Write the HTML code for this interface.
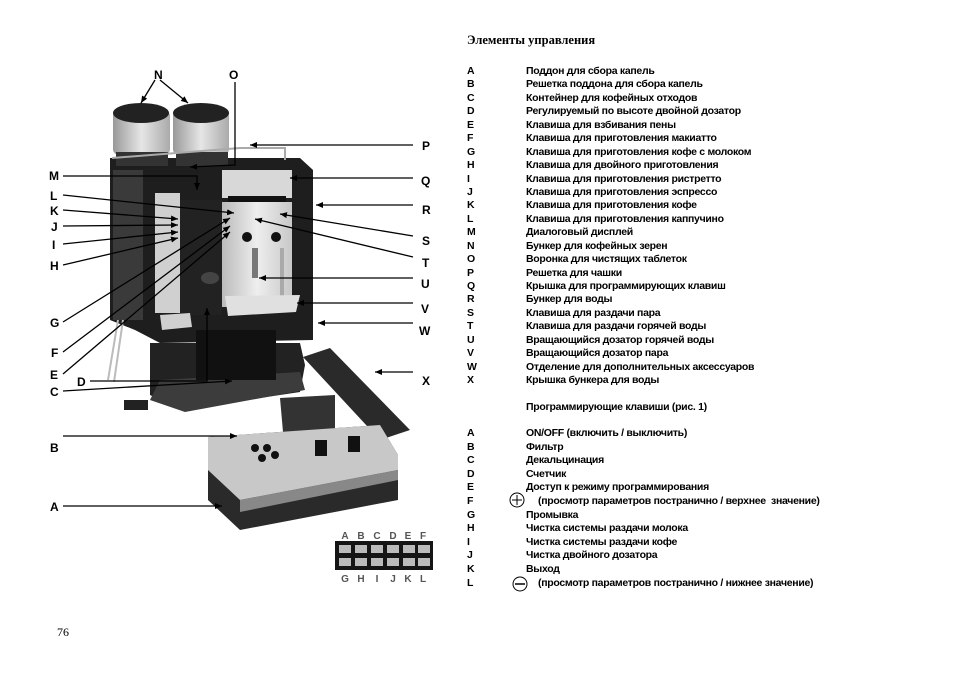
<!DOCTYPE html>
<html><head><meta charset="utf-8"><style>
body{margin:0;background:#fff;width:954px;height:673px;overflow:hidden;position:relative;font-family:"Liberation Sans",sans-serif}
.t{position:absolute;font-family:"Liberation Sans Narrow","Liberation Sans",sans-serif;font-weight:bold;font-size:10.5px;line-height:13px;white-space:nowrap;letter-spacing:-0.3px}
.l{left:467px}.d{left:526px}
svg{position:absolute;left:0;top:0}
</style></head><body>
<svg width="954" height="673" viewBox="0 0 954 673">
<defs>
<marker id="a" markerWidth="8" markerHeight="8" refX="7" refY="4" orient="auto" markerUnits="userSpaceOnUse"><path d="M0,1 L7,4 L0,7 z" fill="#000"/></marker>
<linearGradient id="s" x1="0" x2="1"><stop offset="0" stop-color="#bbb"/><stop offset="0.5" stop-color="#eee"/><stop offset="1" stop-color="#c8c8c8"/></linearGradient>
<linearGradient id="h" x1="0" x2="1"><stop offset="0" stop-color="#999"/><stop offset="0.5" stop-color="#e6e6e6"/><stop offset="1" stop-color="#aaa"/></linearGradient>
</defs>
<path d="M110,158 L300,158 L313,170 L313,340 L160,343 L135,330 L110,320 Z" fill="#1e1e1e"/>
<rect x="113" y="170" width="30" height="150" fill="#3a3a3a"/>
<path d="M150,343 L300,343 L305,365 L300,392 L180,410 L150,395 Z" fill="#222"/>
<path d="M160,380 L300,372 L305,390 L185,412 L150,400 Z" fill="#3c3c3c"/>
<rect x="196" y="330" width="80" height="50" fill="#111"/>
<rect x="113" y="110" width="57" height="45" rx="6" fill="url(#h)"/>
<ellipse cx="141" cy="113" rx="28" ry="10" fill="#222"/>
<rect x="173" y="110" width="56" height="45" rx="6" fill="url(#h)"/>
<ellipse cx="201" cy="113" rx="28" ry="10" fill="#222"/>
<rect x="116" y="152" width="52" height="14" fill="#333"/>
<rect x="176" y="152" width="52" height="14" fill="#333"/>
<path d="M112,158 L240,148 L285,148 L285,160" stroke="#aaa" stroke-width="2" fill="none"/>
<rect x="222" y="170" width="70" height="28" fill="#d8d8d8"/>
<rect x="228" y="196" width="58" height="14" fill="#111"/>
<rect x="222" y="202" width="70" height="105" fill="url(#s)"/>
<rect x="155" y="193" width="25" height="120" fill="#d0d0d0"/>
<rect x="180" y="200" width="42" height="115" fill="#222"/>
<circle cx="247" cy="237" r="5" fill="#111"/><circle cx="276" cy="237" r="5" fill="#111"/>
<rect x="252" y="248" width="6" height="30" fill="#777"/><rect x="280" y="248" width="4" height="60" fill="#aaa"/>
<ellipse cx="210" cy="278" rx="9" ry="6" fill="#444"/>
<path d="M225,296 L300,295 L296,312 L228,316 Z" fill="#e0e0e0"/>
<path d="M160,315 L190,313 L192,327 L162,330 Z" fill="#d0d0d0"/>
<path d="M118,320 L108,380 M123,320 L114,382" stroke="#bbb" stroke-width="2"/>
<rect x="124" y="400" width="24" height="10" fill="#222"/>
<path d="M303,357 L330,348 L410,430 L380,440 Z" fill="#2a2a2a"/>
<path d="M280,398 L335,395 L335,430 L283,432 Z" fill="#333"/>
<path d="M208,437 L380,425 L398,455 L398,500 L240,530 L208,500 Z" fill="#2a2a2a"/>
<path d="M208,437 L380,425 L398,455 L398,470 L240,500 L208,470 Z" fill="#c8c8c8"/>
<path d="M240,500 L398,470 L398,480 L240,512 Z" fill="#888"/>
<g fill="#111"><circle cx="255" cy="448" r="4"/><circle cx="267" cy="448" r="4"/><circle cx="262" cy="458" r="4"/><circle cx="275" cy="455" r="4"/>
<rect x="315" y="440" width="12" height="16"/><rect x="348" y="436" width="12" height="16"/></g>
<rect x="335" y="541" width="98" height="29" fill="#151515"/>
<g fill="#bbb"><rect x="339" y="545" width="12" height="8"/><rect x="355" y="545" width="12" height="8"/><rect x="371" y="545" width="12" height="8"/><rect x="387" y="545" width="12" height="8"/><rect x="403" y="545" width="12" height="8"/><rect x="418" y="545" width="12" height="8"/>
<rect x="339" y="558" width="12" height="8"/><rect x="355" y="558" width="12" height="8"/><rect x="371" y="558" width="12" height="8"/><rect x="387" y="558" width="12" height="8"/><rect x="403" y="558" width="12" height="8"/><rect x="418" y="558" width="12" height="8"/></g>
<g font-family="Liberation Sans" font-weight="bold" font-size="10" fill="#555" text-anchor="middle">
<text x="345" y="539">A</text><text x="361" y="539">B</text><text x="377" y="539">C</text><text x="393" y="539">D</text><text x="408" y="539">E</text><text x="423" y="539">F</text>
<text x="345" y="582">G</text><text x="361" y="582">H</text><text x="377" y="582">I</text><text x="393" y="582">J</text><text x="408" y="582">K</text><text x="423" y="582">L</text></g>
<g stroke="#000" stroke-width="1.3" fill="none" marker-end="url(#a)">
<path d="M155,80 L141,103"/><path d="M160,80 L188,103"/>
<path d="M235,82 L235,165 L190,167"/>
<path d="M63,176 L197,176 L197,190"/>
<path d="M63,195 L234,213"/><path d="M63,210 L178,219"/><path d="M63,226 L178,225"/>
<path d="M63,244 L178,232"/><path d="M63,265 L178,238"/>
<path d="M63,322 L230,218"/><path d="M63,352 L230,226"/><path d="M63,374 L230,232"/>
<path d="M90,381 L207,381 L207,308"/><path d="M63,391 L232,381"/>
<path d="M63,436 L237,436"/><path d="M63,506 L222,506"/>
<path d="M413,145 L250,145"/><path d="M413,178 L290,178"/><path d="M413,205 L316,205"/>
<path d="M413,236 L280,214"/><path d="M413,257 L255,219"/><path d="M413,278 L259,278"/>
<path d="M413,303 L297,303"/><path d="M413,323 L318,323"/><path d="M413,372 L375,372"/>
</g>
<g font-family="Liberation Sans" font-weight="bold" font-size="12" fill="#000">
<text x="154" y="79">N</text><text x="229" y="79">O</text>
<text x="49" y="180">M</text><text x="50" y="200">L</text><text x="50" y="215">K</text><text x="51" y="231">J</text><text x="52" y="249">I</text><text x="50" y="270">H</text>
<text x="50" y="327">G</text><text x="51" y="357">F</text><text x="50" y="379">E</text><text x="77" y="386">D</text><text x="50" y="396">C</text>
<text x="50" y="452">B</text><text x="50" y="511">A</text>
<text x="422" y="150">P</text><text x="421" y="185">Q</text><text x="422" y="214">R</text><text x="422" y="245">S</text><text x="422" y="267">T</text><text x="421" y="288">U</text><text x="421" y="313">V</text><text x="419" y="335">W</text><text x="422" y="385">X</text>
</g>
<circle cx="517" cy="500" r="7" fill="none" stroke="#000"/><path d="M512,500 h10 M517,495 v10" stroke="#000"/>
<circle cx="520" cy="584" r="7" fill="none" stroke="#000"/><path d="M515,584 h10" stroke="#000" stroke-width="1.5"/>
</svg>
<div style="position:absolute;left:467px;top:33px;font-family:'Liberation Serif',serif;font-weight:bold;font-size:12.5px">Элементы управления</div>
<div style="position:absolute;left:57px;top:625px;font-family:'Liberation Serif',serif;font-size:12px">76</div>
<div class="t d" style="top:65px;line-height:13.43px">Поддон для сбора капель<br>Решетка поддона для сбора капель<br>Контейнер для кофейных отходов<br>Регулируемый по высоте двойной дозатор<br>Клавиша для взбивания пены<br>Клавиша для приготовления макиатто<br>Клавиша для приготовления кофе с молоком<br>Клавиша для двойного приготовления<br>Клавиша для приготовления ристретто<br>Клавиша для приготовления эспрессо<br>Клавиша для приготовления кофе<br>Клавиша для приготовления каппучино<br>Диалоговый дисплей<br>Бункер для кофейных зерен<br>Воронка для чистящих таблеток<br>Решетка для чашки<br>Крышка для программирующих клавиш<br>Бункер для воды<br>Клавиша для раздачи пара<br>Клавиша для раздачи горячей воды<br>Вращающийся дозатор горячей воды<br>Вращающийся дозатор пара<br>Отделение для дополнительных аксессуаров<br>Крышка бункера для воды</div>
<div class="t l" style="top:65px;line-height:13.43px">A<br>B<br>C<br>D<br>E<br>F<br>G<br>H<br>I<br>J<br>K<br>L<br>M<br>N<br>O<br>P<br>Q<br>R<br>S<br>T<br>U<br>V<br>W<br>X</div>
<div class="t d" style="top:401px">Программирующие клавиши (рис. 1)</div>
<div class="t l" style="top:427px;line-height:13.6px">A<br>B<br>C<br>D<br>E<br>F<br>G<br>H<br>I<br>J<br>K<br>L</div>
<div class="t d" style="top:427px;line-height:13.6px">ON/OFF (включить / выключить)<br>Фильтр<br>Декальцинация<br>Счетчик<br>Доступ к режиму программирования<br><span style="padding-left:12px">(просмотр параметров постранично / верхнее&nbsp; значение)</span><br>Промывка<br>Чистка системы раздачи молока<br>Чистка системы раздачи кофе<br>Чистка двойного дозатора<br>Выход<br><span style="padding-left:12px">(просмотр параметров постранично / нижнее значение)</span></div>
</body></html>
